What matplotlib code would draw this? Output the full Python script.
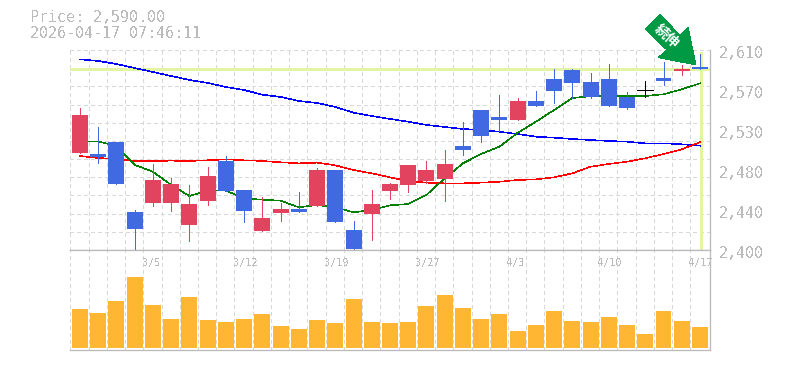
import matplotlib
matplotlib.use("Agg")
import matplotlib.pyplot as plt
from matplotlib.patches import Polygon

opens  = [2502,2501,2513,2440,2449,2449,2426,2451,2493,2463,2420,2439,2443,2446,2484,2421,2438,2462,2468,2472,2475,2509,2547,2540,2536,2556,2580,2589,2576,2580,2561,2568,2581,2588,2592]
closes = [2542,2498,2469,2422,2474,2469,2448,2478,2462,2441,2434,2443,2440,2484,2429,2401,2448,2469,2489,2484,2490,2505,2520,2536,2556,2551,2567,2575,2561,2551,2549,2568,2577,2590,2590]
highs  = [2549,2529,2513,2442,2490,2476,2468,2487,2499,2463,2456,2449,2461,2486,2484,2430,2463,2470,2489,2493,2505,2534,2547,2563,2560,2567,2590,2590,2586,2595,2566,2577,2597,2594,2606]
lows   = [2502,2491,2469,2401,2446,2441,2409,2447,2462,2429,2420,2430,2440,2446,2429,2399,2410,2454,2461,2470,2451,2500,2513,2525,2536,2551,2554,2560,2560,2551,2548,2561,2573,2584,2590]
ma_long = [2600.2,2598.5,2595.3,2591.1,2586.9,2582.7,2578.5,2575.4,2571.2,2568,2563.1,2560.7,2556.5,2554.4,2550.2,2544.2,2540.7,2537.6,2534.7,2531.3,2529.2,2527.1,2526,2524.2,2521.8,2519,2517.9,2516.6,2515.5,2514.5,2513.7,2512,2512,2511,2509.5]
ma_mid = [2498.7,2496.6,2495.6,2493.5,2493.5,2493.8,2493.5,2494.2,2495.2,2494.2,2493.5,2492.1,2491,2491.7,2488.9,2484,2480.5,2476.3,2472.5,2470.7,2470,2470,2470.7,2471.7,2473.5,2474.2,2476.3,2480.5,2487.5,2490.3,2492.7,2496.3,2500.8,2505.7,2513.1]
ma_short = [2513.4,2514.1,2509.2,2489.3,2482.2,2468.3,2456.7,2462.3,2462.3,2454.3,2452.8,2451.8,2444.8,2447.3,2444.8,2439.6,2442,2446.9,2448.3,2457.8,2475.3,2491,2500.8,2508.5,2523,2534.7,2547,2559.6,2561.4,2561.7,2561.7,2561.7,2563.5,2568.7,2575]
volumes = [39,35,47,71,43,29,51,28,26,29,34,22,19,28,25,49,26,25,26,42,53,40,29,34,17,23,37,27,26,31,23,14,37,27,21]
date_labels = ["3/5","3/12","3/19","3/27","4/3","4/10","4/17"]
date_index = [4,9,14,19,24,29,34]
price_ticks = [2610,2568,2526,2484,2442,2400]
price_now = 2590
price_top_mark = 2608
price_bottom_mark = 2401
header = ["Price: 2,590.00","2026-04-17 07:46:11"]

W,H = 785,370
GRAY="#BBBBBB"; GRID="#D8D8D8"; LIME="#E3F5A5"
RED="#E2435F"; BLUE="#4169E1"; ORANGE="#FFB733"; ARROW="#009944"
FONT="DejaVu Sans Mono"
plt.rcParams['font.family']=FONT
plt.rcParams['text.antialiased']=False
PX=0.72

fig=plt.figure(figsize=(W/100,H/100),dpi=100,facecolor="white")
def rect(l,t,r,b): return [l/W,1-b/H,(r-l)/W,(b-t)/H]
ax=fig.add_axes(rect(70,50,710,250))
vx=fig.add_axes(rect(70,250,710,350))
xmin,xmax=-0.548,34.55
n=len(opens); xs=list(range(n))
grid_style=dict(color=GRID,lw=PX,ls=(0,(3,3)),zorder=0,antialiased=False)

ax.set_xlim(xmin,xmax); ax.set_ylim(2400,2610)
for k in range(1,12):
    ax.axhline(2400+k*210/11,**grid_style)
for a in (ax,vx):
    for i in range(0,n):
        a.axvline(i-0.528,**grid_style)
    a.set_xticks([]); a.set_yticks([])
    for s in a.spines.values(): s.set_visible(False)
    for s in ("right","bottom"):
        a.spines[s].set_visible(True); a.spines[s].set_color(GRAY); a.spines[s].set_linewidth(PX*1.3)
vx.spines["top"].set_visible(True); vx.spines["top"].set_color(GRAY); vx.spines["top"].set_linewidth(PX*1.3)

ax.axhline(price_now,color=LIME,lw=3*PX,zorder=1,antialiased=False)
ax.plot([n-1+0.03]*2,[price_bottom_mark,price_top_mark],color=LIME,lw=3*PX,zorder=1,solid_capstyle="butt",antialiased=False)

for series,c in ((ma_long,"#0000FF"),(ma_mid,"#FF0000"),(ma_short,"#008000")):
    ax.plot(xs,series,color=c,lw=0.4,zorder=2,antialiased=False)

for i in xs:
    c=RED if closes[i]>opens[i] else BLUE if closes[i]<opens[i] else "black"
    ax.plot([i,i],[lows[i],highs[i]],color=c,lw=PX,zorder=3,solid_capstyle="butt",antialiased=False,clip_on=False)
    if closes[i]==opens[i]:
        ax.plot([i-0.44,i+0.44],[opens[i],opens[i]],color=c,lw=PX,zorder=4,solid_capstyle="butt",antialiased=False)
    else:
        ax.bar(i,abs(closes[i]-opens[i]),bottom=min(opens[i],closes[i]),width=0.877,color=c,zorder=4,antialiased=False,linewidth=0)

vx.set_xlim(xmin,xmax); vx.set_ylim(-2.3,98)
vx.bar(xs,volumes,width=0.877,color=ORANGE,zorder=2,antialiased=False,linewidth=0)
for i,l in zip(date_index,date_labels):
    vx.annotate(l,(i-0.548,96),xytext=(-1,-6),textcoords="offset pixels",ha="left",va="top",fontsize=7.3,color=GRAY,annotation_clip=False,zorder=5)

for v in price_ticks:
    ax.annotate(f"{round(v,-1):,}",(xmax,v),xytext=(9,-4),textcoords="offset pixels",ha="left",va="center",fontsize=10.8,color=GRAY,annotation_clip=False)

ov=fig.add_axes([0,0,1,1],facecolor="none"); ov.set_xlim(0,W); ov.set_ylim(H,0); ov.axis("off")
ov.text(30,18,header[0],fontsize=10.8,color=GRAY,va="center",ha="left")
ov.text(30,33,header[1],fontsize=10.8,color=GRAY,va="center",ha="left")
ov.add_patch(Polygon([(660,14),(645,29),(667,50),(658,57.5),(696,65),(688,27),(680,35.5)],closed=True,facecolor=ARROW,edgecolor="none",antialiased=False))
ov.text(666,37,"続伸",rotation=-42,rotation_mode="anchor",ha="center",va="center",fontsize=10,color="white",family=["Noto Sans CJK JP","DejaVu Sans"],fontweight="bold",antialiased=True)

fig.savefig("out.png",dpi=100,facecolor="white")
